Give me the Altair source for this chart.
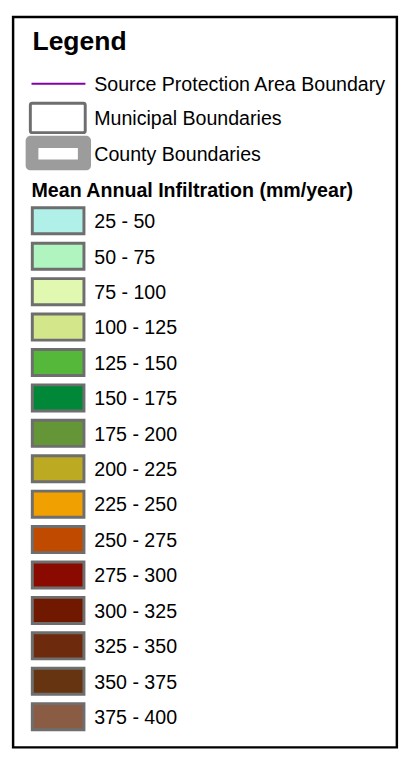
import altair as alt
import pandas as pd

# ---- content ----
legend_title = "Legend"
line_label = "Source Protection Area Boundary"
muni_label = "Municipal Boundaries"
county_label = "County Boundaries"
section_title = "Mean Annual Infiltration (mm/year)"

class_labels = [
    "25 - 50", "50 - 75", "75 - 100", "100 - 125", "125 - 150",
    "150 - 175", "175 - 200", "200 - 225", "225 - 250", "250 - 275",
    "275 - 300", "300 - 325", "325 - 350", "350 - 375", "375 - 400",
]
class_colors = [
    "#b0f0e8", "#b0f5c0", "#e0f8b0", "#d4e68a", "#55b83a",
    "#008838", "#649638", "#bbaa22", "#f0a000", "#bf4a00",
    "#8a0a00", "#701800", "#6e2a0c", "#663410", "#8a5c44",
]

# ---- layout ----
W, H = 400, 750
FONT = "Liberation Sans"
PITCH = 36.14
SW_TOP0 = 196.2
SW_H = 26.6
LBL_BASE0 = 217.0
TEXT_X = 88

yscale = alt.Scale(domain=[0, H], range=[0, H])

rows = list(range(len(class_labels)))
sw = pd.DataFrame({"label": class_labels, "color": class_colors, "row": rows})
sw["y"] = SW_TOP0 + PITCH * sw["row"]
sw["y2"] = sw["y"] + SW_H
sw["ty"] = LBL_BASE0 + PITCH * sw["row"]

one = pd.DataFrame({"a": [0]})

frame = alt.Chart(one).mark_rect(fill="white", stroke="black", strokeWidth=2.5).encode(
    x=alt.value(5.2), x2=alt.value(396.8), y=alt.value(1.5), y2=alt.value(746.8)
)

title = alt.Chart(pd.DataFrame({"t": [legend_title], "y": [35.3]})).mark_text(
    align="left", baseline="alphabetic", font=FONT, fontSize=27, fontWeight="bold", color="black"
).encode(x=alt.value(25), y=alt.Y("y:Q", scale=yscale, axis=None), text="t:N")

pline = alt.Chart(pd.DataFrame({"y": [69.7]})).mark_rule(color="#8400a8", strokeWidth=2).encode(
    x=alt.value(24), x2=alt.value(79), y=alt.Y("y:Q", scale=yscale, axis=None)
)

muni = alt.Chart(pd.DataFrame({"y": [89.5], "y2": [119.5]})).mark_rect(
    fill="white", stroke="#6e6e6e", strokeWidth=3, cornerRadius=2
).encode(x=alt.value(22.8), x2=alt.value(78.8), y=alt.Y("y:Q", scale=yscale, axis=None), y2="y2:Q")

county_outer = alt.Chart(pd.DataFrame({"y": [122.7], "y2": [158.0]})).mark_rect(
    fill="#9c9c9c", cornerRadius=5
).encode(x=alt.value(18), x2=alt.value(84.7), y=alt.Y("y:Q", scale=yscale, axis=None), y2="y2:Q")

county_inner = alt.Chart(pd.DataFrame({"y": [135.3], "y2": [147.0]})).mark_rect(
    fill="white"
).encode(x=alt.value(31), x2=alt.value(71.3), y=alt.Y("y:Q", scale=yscale, axis=None), y2="y2:Q")

hdr = pd.DataFrame({"t": [line_label, muni_label, county_label], "y": [77.0, 111.3, 148.7]})
hdr_text = alt.Chart(hdr).mark_text(
    align="left", baseline="alphabetic", font=FONT, fontSize=20, color="black"
).encode(x=alt.value(TEXT_X), y=alt.Y("y:Q", scale=yscale, axis=None), text="t:N")

sec = alt.Chart(pd.DataFrame({"t": [section_title], "y": [185.5]})).mark_text(
    align="left", baseline="alphabetic", font=FONT, fontSize=20, fontWeight="bold", color="black"
).encode(x=alt.value(24), y=alt.Y("y:Q", scale=yscale, axis=None), text="t:N")

swatches = alt.Chart(sw).mark_rect(stroke="#6e6e6e", strokeWidth=3).encode(
    x=alt.value(24.8), x2=alt.value(77.5),
    y=alt.Y("y:Q", scale=yscale, axis=None), y2="y2:Q",
    fill=alt.Fill("color:N", scale=None),
)

labels = alt.Chart(sw).mark_text(
    align="left", baseline="alphabetic", font=FONT, fontSize=20, color="black"
).encode(x=alt.value(TEXT_X), y=alt.Y("ty:Q", scale=yscale, axis=None), text="label:N")

chart = alt.layer(
    frame, title, pline, muni, county_outer, county_inner, hdr_text, sec, swatches, labels
).properties(
    width=W, height=H, autosize=alt.AutoSizeParams(type="none"), padding=0
).configure_view(strokeWidth=0)

chart.save("out.html", embed_options={"renderer": "svg", "actions": False})
